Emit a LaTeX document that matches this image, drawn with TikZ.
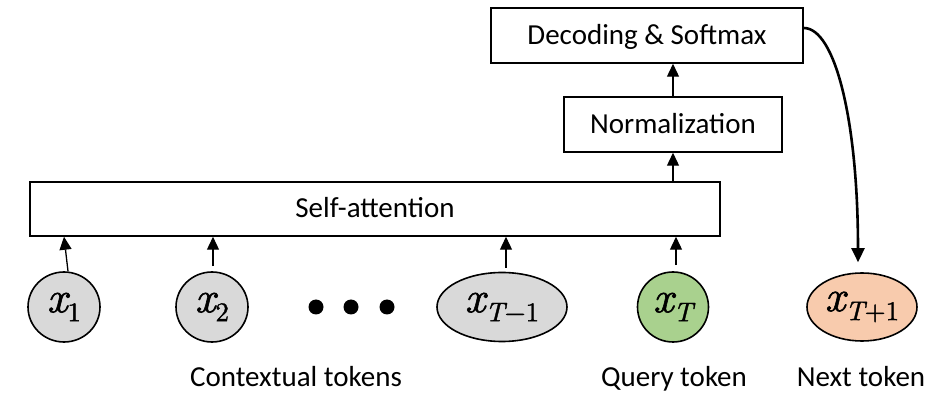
\documentclass[tikz,border=0pt]{standalone}
\usepackage{fontspec}
\setmainfont{Carlito}
\newfontfamily\lmr{lmroman10}[Extension=.otf, UprightFont=*-regular, ItalicFont=*-italic, FakeBold=1.3]
\usetikzlibrary{arrows.meta,shapes.geometric}

\definecolor{tokgray}{HTML}{D9D9D9}
\definecolor{tokgreen}{HTML}{A9D18E}
\definecolor{tokorange}{HTML}{F8CBAD}

% token symbol: italic x with a lowered subscript
\newcommand{\tokenlabel}[1]{{\lmr\itshape x}\raisebox{-9pt}{\fontsize{27}{30}\selectfont\lmr #1}}

\tikzset{
  layerbox/.style={draw=black, line width=1.5pt, fill=white, inner sep=0pt,
    font=\fontsize{29}{34}\selectfont, text height=22pt, text depth=4pt},
  token/.style={ellipse, draw=black, line width=1.6pt, inner sep=0pt,
    font=\fontsize{44}{46}\selectfont},
  caption/.style={anchor=base, inner sep=0pt, font=\fontsize{29}{34}\selectfont},
  uparrow/.style={line width=1.3pt, -{Triangle[width=12pt,length=13pt]}},
  outarrow/.style={line width=2.6pt, -{Triangle[width=13pt,length=14pt]}},
  dot/.style={circle, fill=black, inner sep=0pt, minimum size=15pt}
}

\begin{document}
\begin{tikzpicture}[x=1pt,y=-1pt]
  \useasboundingbox (0,0) rectangle (930,395);

  % processing layers
  \node[layerbox, minimum width=690pt, minimum height=54pt] (sa) at (375,209) {Self-attention};
  \node[layerbox, minimum width=218pt, minimum height=55pt] (norm) at (673,124.5) {Normalization};
  \node[layerbox, minimum width=312pt, minimum height=55pt] (dec) at (647,35.5) {Decoding \& Softmax};

  % input tokens
  \node[token, fill=tokgray, minimum width=72pt, minimum height=70pt] (x1) at (64,307) {\tokenlabel{1}};
  \node[token, fill=tokgray, minimum width=72pt, minimum height=70pt] (x2) at (212,307) {\tokenlabel{2}};
  \node[dot] (d1) at (316,307) {};
  \node[dot] (d2) at (351,307) {};
  \node[dot] (d3) at (387,307) {};
  \node[token, fill=tokgray, minimum width=130pt, minimum height=69pt] (xtm) at (502,307) {\tokenlabel{\itshape T\upshape−1}};
  \node[token, fill=tokgreen, minimum width=71pt, minimum height=70pt] (xt) at (673,307) {\tokenlabel{\itshape T}};
  \node[token, fill=tokorange, minimum width=110pt, minimum height=68pt] (xtp) at (862,307) {\tokenlabel{\itshape T\upshape+1}};

  % group captions
  \node[caption] (capc) at (296,387) {Contextual tokens};
  \node[caption] (capq) at (674,387) {Query token};
  \node[caption] (capn) at (861,387) {Next token};

  % token inputs into self-attention
  \draw[uparrow] ([xshift=4pt]x1.north) -- (x1.north |- sa.south);
  \draw[uparrow] ([xshift=1pt,yshift=5pt]x2.north) -- ([xshift=1pt]x2.north |- sa.south);
  \draw[uparrow] ([xshift=4pt,yshift=4pt]xtm.north) -- ([xshift=4pt]xtm.north |- sa.south);
  \draw[uparrow] ([xshift=3pt,yshift=6pt]xt.north) -- ([xshift=3pt]xt.north |- sa.south);

  % layer stack
  \draw[uparrow] (norm.south |- sa.north) -- (norm.south);
  \draw[uparrow] (norm.north) -- (norm.north |- dec.south);

  % prediction fed to next token
  \coordinate (outstart) at ([yshift=7.5pt]dec.east);
  \coordinate (outend) at ([xshift=-4pt,yshift=10pt]xtp.north);
  \draw[outarrow] (outstart) .. controls (835,28) and (858,120) .. (outend);
\end{tikzpicture}
\end{document}
